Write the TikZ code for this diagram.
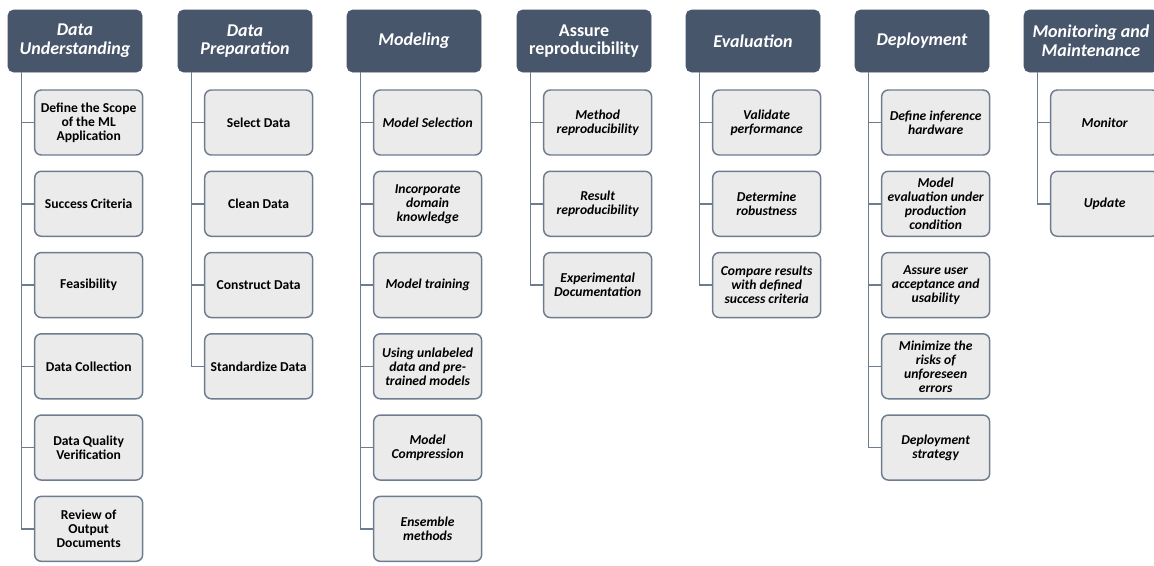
\documentclass[tikz,border=0pt]{standalone}
\usepackage{fontspec}
\setmainfont{Carlito}
\usetikzlibrary{positioning}
\definecolor{hdrblue}{HTML}{48566B}
\definecolor{boxgray}{HTML}{EBEBEB}
\definecolor{edgegray}{HTML}{6E7C90}

\begin{document}
\begin{tikzpicture}[x=0.75pt,y=-0.75pt,node distance=12.2pt,
  hdr/.style={draw=hdrblue,fill=hdrblue,rounded corners=4pt,minimum width=100.5pt,minimum height=46.5pt,outer sep=0pt,
    anchor=north west,text=white,font=\fontsize{13.5}{14}\selectfont\bfseries\itshape,align=center,inner sep=1pt},
  task/.style={draw=edgegray,fill=boxgray,line width=1.1pt,rounded corners=5pt,minimum width=81pt,minimum height=48.75pt,
    outer sep=0pt,font=\fontsize{10.2}{10.5}\selectfont\bfseries,align=center,inner sep=1pt},
  itask/.style={task,font=\fontsize{10.2}{10.5}\selectfont\bfseries\itshape},
  link/.style={draw=edgegray,line width=1.2pt}]
\clip (0,0) rectangle (1154,565);

% column headers
\node[hdr] (du) at (8,10) {Data\\Understanding};
\node[hdr] (dp) at (178,10) {Data\\Preparation};
\node[hdr] (mo) at (347,10) {Modeling};
\node[hdr,font=\fontsize{13.5}{14}\selectfont\bfseries] (ar) at (517,10) {Assure\\reproducibility};
\node[hdr] (ev) at (686,10) {Evaluation};
\node[hdr] (de) at (855,10) {Deployment};
\node[hdr] (mm) at (1024,10) {Monitoring and\\Maintenance};

% Data Understanding
\node[task,below right=13.5pt and 20pt of du.south west] (du1) {Define the Scope\\of the ML\\Application};
\node[task,below=of du1] (du2) {Success Criteria};
\node[task,below=of du2] (du3) {Feasibility};
\node[task,below=of du3] (du4) {Data Collection};
\node[task,below=of du4] (du5) {Data Quality\\Verification};
\node[task,below=of du5] (du6) {Review of\\Output\\Documents};

% Data Preparation
\node[task,below right=13.5pt and 20pt of dp.south west] (dp1) {Select Data};
\node[task,below=of dp1] (dp2) {Clean Data};
\node[task,below=of dp2] (dp3) {Construct Data};
\node[task,below=of dp3] (dp4) {Standardize Data};

% Modeling
\node[itask,below right=13.5pt and 20pt of mo.south west] (mo1) {Model Selection};
\node[itask,below=of mo1] (mo2) {Incorporate\\domain\\knowledge};
\node[itask,below=of mo2] (mo3) {Model training};
\node[itask,below=of mo3] (mo4) {Using unlabeled\\data and pre-\\trained models};
\node[itask,below=of mo4] (mo5) {Model\\Compression};
\node[itask,below=of mo5] (mo6) {Ensemble\\methods};

% Assure reproducibility
\node[itask,below right=13.5pt and 20pt of ar.south west] (ar1) {Method\\reproducibility};
\node[itask,below=of ar1] (ar2) {Result\\reproducibility};
\node[itask,below=of ar2] (ar3) {Experimental\\Documentation};

% Evaluation
\node[itask,below right=13.5pt and 20pt of ev.south west] (ev1) {Validate\\performance};
\node[itask,below=of ev1] (ev2) {Determine\\robustness};
\node[itask,below=of ev2] (ev3) {Compare results\\with defined\\success criteria};

% Deployment
\node[itask,below right=13.5pt and 20pt of de.south west] (de1) {Define inference\\hardware};
\node[itask,below=of de1] (de2) {Model\\evaluation under\\production\\condition};
\node[itask,below=of de2] (de3) {Assure user\\acceptance and\\usability};
\node[itask,below=of de3] (de4) {Minimize the\\risks of\\unforeseen\\errors};
\node[itask,below=of de4] (de5) {Deployment\\strategy};

% Monitoring and Maintenance
\node[itask,below right=13.5pt and 20pt of mm.south west] (mm1) {Monitor};
\node[itask,below=of mm1] (mm2) {Update};

% connectors
\foreach \h/\n in {du/6,dp/4,mo/6,ar/3,ev/3,de/5,mm/2}
  \foreach \i in {1,...,\n}
    \draw[link] ([xshift=10pt]\h.south west) |- (\h\i.west);
\end{tikzpicture}
\end{document}
